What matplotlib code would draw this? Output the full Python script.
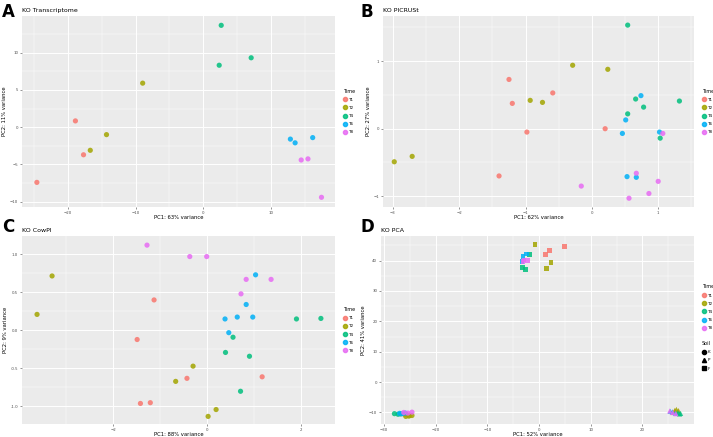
import matplotlib
matplotlib.use("Agg")
import matplotlib.pyplot as plt
from matplotlib.lines import Line2D
import numpy as np

time_levels = ["T1", "T2", "T4", "T6", "T8"]
time_colors = ["#F8766D", "#A3A500", "#00BF7D", "#00B0F6", "#E76BF3"]

# Panel A: KO Transcriptome
a_time = ["T1"] * 3 + ["T2"] * 3 + ["T4"] * 3 + ["T6"] * 3 + ["T8"] * 3
a_x = [-18.9, -17.7, -24.6, -8.95, -14.3, -16.7, 2.67, 2.37, 7.1, 12.9, 13.6, 16.2, 14.5, 15.5, 17.5]
a_y = [0.84, -3.7, -7.4, 5.9, -1.0, -3.1, 13.65, 8.3, 9.3, -1.6, -2.1, -1.4, -4.4, -4.25, -9.4]

# Panel B: KO PICRUSt
b_time = ["T1"] * 6 + ["T2"] * 6 + ["T4"] * 6 + ["T6"] * 6 + ["T8"] * 6
b_x = [-1.25, -1.20, -0.59, -0.98, 0.20, -1.40,
       -0.29, 0.24, -0.93, -0.745, -2.71, -2.98,
       0.54, 0.66, 0.78, 0.54, 1.32, 1.03,
       0.74, 0.51, 0.46, 1.02, 0.53, 0.67,
       1.07, 0.67, 1.0, 0.86, 0.56, -0.16]
b_y = [0.73, 0.375, 0.53, -0.05, 0.0, -0.70,
       0.94, 0.88, 0.42, 0.39, -0.41, -0.49,
       1.535, 0.44, 0.32, 0.22, 0.41, -0.14,
       0.49, 0.13, -0.07, -0.05, -0.71, -0.72,
       -0.07, -0.66, -0.78, -0.96, -1.03, -0.85]

# Panel C: KO CowPI
c_time = ["T1"] * 6 + ["T2"] * 6 + ["T4"] * 6 + ["T6"] * 6 + ["T8"] * 6
c_x = [-1.13, -1.49, -0.43, 1.17, -1.42, -1.21,
       -3.30, -3.62, -0.30, -0.67, 0.19, 0.02,
       1.90, 2.42, 0.55, 0.39, 0.90, 0.71,
       1.03, 0.83, 0.64, 0.97, 0.38, 0.46,
       -1.28, -0.37, -0.01, 0.83, 1.36, 0.72]
c_y = [0.40, -0.12, -0.63, -0.61, -0.96, -0.95,
       0.715, 0.21, -0.47, -0.67, -1.04, -1.13,
       0.15, 0.157, -0.09, -0.29, -0.34, -0.80,
       0.73, 0.34, 0.175, 0.175, 0.15, -0.03,
       1.12, 0.97, 0.97, 0.67, 0.67, 0.48]

# Panel D: KO PCA (Time x Soil)
soil_levels = ["K", "P", "F"]
soil_markers = ["o", "^", "s"]
d_time = (["T1"] * 3 + ["T2"] * 3 + ["T4"] * 3 + ["T6"] * 3 + ["T8"] * 3) * 3
d_soil = ["K"] * 15 + ["P"] * 15 + ["F"] * 15
d_x = [-25.5, -25.0, -26.0, -25.2, -24.6, -25.8, -28.0, -27.3, -26.8, -26.5, -27.0, -25.9, -26.2, -25.4, -24.6,
       26.2, 26.8, 25.9, 26.6, 27.0, 26.3, 27.4, 26.9, 27.2, 25.8, 26.4, 25.4, 25.3, 25.9, 26.5,
       4.9, 2.1, 1.3, -0.8, 2.3, 1.4, -1.9, -3.2, -2.6, -2.4, -3.1, -3.3, -2.9, -2.3, -3.1]
d_y = [-10.8, -11.0, -10.7, -11.2, -11.0, -11.3, -10.4, -10.6, -10.5, -10.4, -10.3, -10.2, -10.0, -10.2, -9.9,
       -9.6, -9.8, -10.0, -9.0, -9.4, -9.3, -10.3, -10.1, -10.5, -9.8, -10.2, -9.6, -9.5, -10.0, -10.4,
       44.6, 43.4, 41.9, 45.2, 39.3, 37.3, 42.0, 37.7, 37.1, 42.2, 41.4, 39.6, 40.2, 40.0, 39.8]

W, H = 713, 437
fig = plt.figure(figsize=(W / 100, H / 100), dpi=100)
fig.patch.set_facecolor("white")

ALPHA = 0.85

def box(l, r, t, b):
    return [l / W, 1 - b / H, (r - l) / W, (b - t) / H]

TICK_FS = 2.8
LAB_FS = 3.8
LEG_KW = dict(frameon=False, fontsize=3, title_fontsize=3.5, handletextpad=0.3,
              labelspacing=1.0, borderaxespad=0, handlelength=1.0)

def style(ax, xlim, ylim, xt, yt, xlab, ylab, title, xminor, yminor):
    ax.set_facecolor("#EBEBEB")
    ax.set_xlim(xlim)
    ax.set_ylim(ylim)
    ax.set_xticks(xt)
    ax.set_yticks(yt)
    ax.set_xticks(xminor, minor=True)
    ax.set_yticks(yminor, minor=True)
    ax.grid(True, which="major", color="white", linewidth=0.7)
    ax.grid(True, which="minor", color="white", linewidth=0.35)
    ax.set_axisbelow(True)
    for s in ax.spines.values():
        s.set_visible(False)
    ax.tick_params(which="major", length=1.5, width=0.4, color="#444444",
                   labelsize=TICK_FS, labelcolor="#4D4D4D", pad=1.2)
    ax.tick_params(which="minor", length=0)
    ax.set_xlabel(xlab, fontsize=LAB_FS, labelpad=0.5)
    ax.set_ylabel(ylab, fontsize=LAB_FS, labelpad=2)
    ax.set_title(title, fontsize=4.5, loc="left", pad=3)

def time_handles():
    return [Line2D([], [], marker="o", linestyle="", color=c, alpha=ALPHA, markersize=3.0, label=t)
            for t, c in zip(time_levels, time_colors)]

def time_legend(ax, x_anchor=1.02):
    lg = ax.legend(handles=time_handles(), title="Time", loc="center left",
                   bbox_to_anchor=(x_anchor, 0.5), **LEG_KW)
    lg._legend_box.align = "left"
    return lg

def scatter_time(ax, xs, ys, ts):
    for t, c in zip(time_levels, time_colors):
        idx = [i for i, tt in enumerate(ts) if tt == t]
        ax.scatter([xs[i] for i in idx], [ys[i] for i in idx], s=14, color=c,
                   alpha=ALPHA, edgecolors="none", zorder=3)

# A
axA = fig.add_axes(box(22, 335, 16, 207))
scatter_time(axA, a_x, a_y, a_time)
style(axA, (-26.8, 19.5), (-10.7, 14.9), [-20, -10, 0, 10], [-10, -5, 0, 5, 10],
      "PC1: 63% variance", "PC2: 11% variance", "KO Transcriptome",
      [-25, -15, -5, 5, 15], [-7.5, -2.5, 2.5, 7.5, 12.5])
time_legend(axA)

# B
axB = fig.add_axes(box(383, 694, 16, 207))
scatter_time(axB, b_x, b_y, b_time)
style(axB, (-3.15, 1.54), (-1.16, 1.67), [-3, -2, -1, 0, 1], [-1, 0, 1],
      "PC1: 62% variance", "PC2: 27% variance", "KO PICRUSt",
      [-2.5, -1.5, -0.5, 0.5, 1.5], [-0.5, 0.5, 1.5])
time_legend(axB)

# C
axC = fig.add_axes(box(22, 335, 236, 424))
scatter_time(axC, c_x, c_y, c_time)
style(axC, (-3.94, 2.72), (-1.23, 1.24), [-2, 0, 2], [-1.0, -0.5, 0.0, 0.5, 1.0],
      "PC1: 88% variance", "PC2: 9% variance", "KO CowPI",
      [-3, -1, 1], [-0.75, -0.25, 0.25, 0.75])
axC.set_yticklabels(["-1.0", "-0.5", "0.0", "0.5", "1.0"])
time_legend(axC)

# D
axD = fig.add_axes(box(381, 694, 236, 424))
for sl, mk in zip(soil_levels, soil_markers):
    for t, c in zip(time_levels, time_colors):
        idx = [i for i in range(len(d_x)) if d_time[i] == t and d_soil[i] == sl]
        ax_s = 12 if mk == "s" else 14
        axD.scatter([d_x[i] for i in idx], [d_y[i] for i in idx], s=ax_s, marker=mk,
                    color=c, alpha=ALPHA, edgecolors="none", zorder=3)
style(axD, (-30.6, 30.0), (-13.8, 48.1), [-30, -20, -10, 0, 10, 20], [-10, 0, 10, 20, 30, 40],
      "PC1: 52% variance", "PC2: 41% variance", "KO PCA",
      [-25, -15, -5, 5, 15, 25], [-5, 5, 15, 25, 35, 45])
lgT = axD.legend(handles=time_handles(), title="Time", loc="lower left",
                 bbox_to_anchor=(1.02, 0.49), **LEG_KW)
lgT._legend_box.align = "left"
axD.add_artist(lgT)
lgS = axD.legend(handles=[Line2D([], [], marker=m, linestyle="", color="black", markersize=3.0, label=s)
                          for s, m in zip(soil_levels, soil_markers)],
                 title="Soil", loc="upper left", bbox_to_anchor=(1.02, 0.45), **LEG_KW)
lgS._legend_box.align = "left"

# Panel letters
for lab, (x, y) in zip("ABCD", [(2, 3), (360, 3), (2, 218), (360, 218)]):
    fig.text(x / W, 1 - y / H, lab, fontsize=12, fontweight="bold", va="top", ha="left")

fig.savefig("out.png", dpi=100, facecolor="white")
